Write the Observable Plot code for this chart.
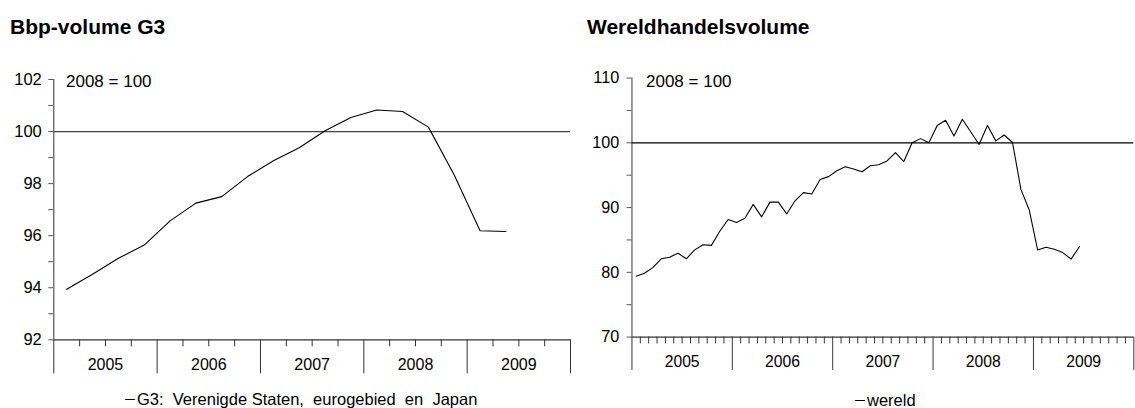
<!DOCTYPE html>
<html><head><meta charset="utf-8">
<script src="https://cdn.jsdelivr.net/npm/d3@7"></script>
<script src="https://cdn.jsdelivr.net/npm/@observablehq/plot@0.6"></script>
<style>
html,body{margin:0;padding:0;}
body{width:1135px;height:408px;position:relative;overflow:hidden;background:#fff;font-family:"Liberation Sans",Arial,Helvetica,sans-serif;color:#000;}
.abs{position:absolute;white-space:pre;line-height:1;}
.title{font-weight:bold;font-size:21px;}
.note{font-size:17px;}
.legend{font-size:16.5px;}
.swatch{display:inline-block;width:10px;height:0;border-top:1px solid #000;vertical-align:middle;margin-right:2px;position:relative;top:-1px;}
.chart{position:absolute;top:0;}
.chart svg{overflow:visible;}
</style></head><body>
<div id="left" class="chart" style="left:0px"></div>
<div id="right" class="chart" style="left:585px"></div>
<div class="abs title" style="left:10px;top:15.5px">Bbp-volume G3</div>
<div class="abs title" style="left:587px;top:15.5px">Wereldhandelsvolume</div>
<div class="abs note" style="left:66px;top:73px">2008 = 100</div>
<div class="abs note" style="left:646px;top:73px">2008 = 100</div>
<div class="abs legend" style="left:125px;top:391px"><span class="swatch"></span>G3:  Verenigde Staten,  eurogebied  en  Japan</div>
<div class="abs legend" style="left:855px;top:392px"><span class="swatch"></span>wereld</div>
<script>
// ---- data ----
const g3Quarters = ["2005Q1","2005Q2","2005Q3","2005Q4","2006Q1","2006Q2","2006Q3","2006Q4",
  "2007Q1","2007Q2","2007Q3","2007Q4","2008Q1","2008Q2","2008Q3","2008Q4","2009Q1","2009Q2"];
const g3Values = [93.94, 94.52, 95.13, 95.64, 96.57, 97.25, 97.50, 98.27,
  98.88, 99.38, 100.03, 100.54, 100.83, 100.77, 100.17, 98.33, 96.19, 96.16];

const wereldMonths = [
  "2005-01","2005-02","2005-03","2005-04","2005-05","2005-06","2005-07","2005-08","2005-09","2005-10","2005-11","2005-12",
  "2006-01","2006-02","2006-03","2006-04","2006-05","2006-06","2006-07","2006-08","2006-09","2006-10","2006-11","2006-12",
  "2007-01","2007-02","2007-03","2007-04","2007-05","2007-06","2007-07","2007-08","2007-09","2007-10","2007-11","2007-12",
  "2008-01","2008-02","2008-03","2008-04","2008-05","2008-06","2008-07","2008-08","2008-09","2008-10","2008-11","2008-12",
  "2009-01","2009-02","2009-03","2009-04","2009-05","2009-06"];
const wereldValues = [
  79.41, 79.86, 80.72, 82.09, 82.34, 82.95, 82.09, 83.46, 84.26, 84.16, 86.34, 88.16,
  87.71, 88.36, 90.49, 88.56, 90.84, 90.84, 89.02, 91.05, 92.31, 92.10, 94.33, 94.78,
  95.69, 96.30, 95.95, 95.54, 96.45, 96.60, 97.21, 98.48, 97.11, 100.00, 100.65, 100.00,
  102.67, 103.49, 101.06, 103.64, 101.70, 99.74, 102.67, 100.30, 101.21, 100.05, 92.81, 89.62,
  83.46, 83.86, 83.56, 83.05, 82.03, 83.96];

const yearLabels = ["2005","2006","2007","2008","2009"];
const g3YTicks = [92, 94, 96, 98, 100, 102];
const wereldYTicks = [70, 80, 90, 100, 110];
const baseLine = 100;

// ---- helpers ----
const firstYear = +yearLabels[0];
const lastYear = +yearLabels[yearLabels.length - 1] + 1;
const yearEdges = d3.range(firstYear, lastYear + 1);
const yearMids = yearLabels.map(y => +y + 0.5);
const quarterTicks = d3.range(firstYear, lastYear, 0.25).filter(d => d % 1 !== 0);
const monthTicks = d3.range(0, (lastYear - firstYear) * 12).filter(m => m % 12 !== 0).map(m => firstYear + m / 12);
const qToT = s => +s.slice(0, 4) + (+s.slice(5) - 0.5) / 4;
const mToT = s => +s.slice(0, 4) + (+s.slice(5) - 0.5) / 12;
const g3Data = g3Quarters.map((q, i) => ({t: qToT(q), v: g3Values[i]}));
const wereldData = wereldMonths.map((m, i) => ({t: mToT(m), v: wereldValues[i]}));

const font = '"Liberation Sans", Arial, Helvetica, sans-serif';
const axisColor = "#555";

function chart({data, yTicks, yMinor, minorX, width, mL, mR, mB, yPad, baseStroke}) {
  const yMin = yTicks[0], yMax = yTicks[yTicks.length - 1];
  return Plot.plot({
    width, height: 408,
    marginLeft: mL, marginRight: mR, marginTop: 79, marginBottom: mB,
    x: {domain: [firstYear, lastYear], axis: null},
    y: {domain: [yMin, yMax], axis: null},
    style: {fontFamily: font, fontSize: "16.5px", color: "#000", background: "transparent", overflow: "visible"},
    marks: [
      Plot.axisY({ticks: yTicks, tickSize: 5, tickPadding: yPad, tickFormat: d => String(d), stroke: axisColor, fill: "#000", fontSize: 16.5, label: null}),
      Plot.axisY({ticks: yMinor, tickSize: 5, tickFormat: () => "", stroke: axisColor, label: null}),
      Plot.axisX({ticks: yearEdges, tickSize: 34, tickFormat: () => "", stroke: "#333", label: null}),
      Plot.axisX({ticks: minorX, tickSize: 7, tickFormat: () => "", stroke: "#333", label: null}),
      Plot.axisX({ticks: yearMids, tickSize: 0, tickPadding: 19, tickFormat: d => String(Math.floor(d)), fill: "#000", fontSize: 16, label: null}),
      Plot.ruleX([firstYear], {y1: yMin, y2: yMax, stroke: axisColor, strokeWidth: 1.2}),
      Plot.ruleY([yMin], {x1: firstYear, x2: lastYear, stroke: "#333", strokeWidth: 1.2}),
      Plot.ruleY([baseLine], {x1: firstYear, x2: lastYear, stroke: baseStroke, strokeWidth: 1.3}),
      Plot.line(data, {x: "t", y: "v", stroke: "#000", strokeWidth: 1.1})
    ]
  });
}

document.getElementById("left").append(chart({
  data: g3Data, yTicks: g3YTicks, yMinor: d3.range(93, 102, 2), minorX: quarterTicks,
  width: 585, mL: 53.3, mR: 15, mB: 68.7, yPad: 7, baseStroke: "#444"
}));
document.getElementById("right").append(chart({
  data: wereldData, yTicks: wereldYTicks, yMinor: d3.range(75, 110, 10), minorX: monthTicks,
  width: 560, mL: 47.3, mR: 1.7, mB: 65.3, yPad: 8, baseStroke: "#000"
}));
</script>
</body></html>
